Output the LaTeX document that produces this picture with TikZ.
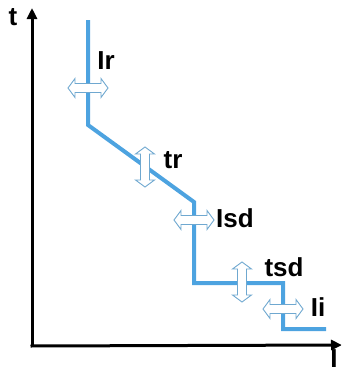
\documentclass[tikz,border=0pt]{standalone}
\usepackage{fontspec}
\setmainfont{Liberation Sans}
\usetikzlibrary{arrows.meta}
\definecolor{curveblue}{HTML}{4DA3E0}
\definecolor{arrowblue}{HTML}{6FA8D0}
\tikzset{
  axis/.style={line width=3pt,-{Triangle[length=11pt,width=10pt]}},
  curve/.style={line width=4pt,curveblue,line join=miter},
  darrline/.style={draw=arrowblue,fill=white,line width=0.9pt,line join=miter},
  darr/.pic={\draw[darrline] (-20,0) -- (-13,-9.5) -- (-13,-4.5) -- (13,-4.5) -- (13,-9.5)
     -- (20,0) -- (13,9.5) -- (13,4.5) -- (-13,4.5) -- (-13,9.5) -- cycle;},
  lbl/.style={font=\fontsize{26}{28}\selectfont\bfseries,inner sep=0pt}
}
\begin{document}
\begin{tikzpicture}[x=1pt,y=-1pt]
\clip (0,0) rectangle (341,372);
\useasboundingbox (0,0) rectangle (341,372);
\coordinate (O) at (32,346);
\coordinate (Ytop) at (32,8);
\coordinate (Xend) at (342,345);
\draw[axis] (O) -- (Ytop);
\draw[axis] ([xshift=-1.5pt]O) -- (Xend);
\node[lbl] (t) at (13,17) {t};
\node[lbl] (I) at (334,359) {I};
\coordinate (c0) at (88,20);
\coordinate (c1) at (88,125);
\coordinate (c2) at (194,202);
\coordinate (c3) at (194,283);
\coordinate (c4) at (283,283);
\coordinate (c5) at (283,329);
\coordinate (c6) at (326,329);
\draw[curve] (c0) -- (c1) -- (c2) -- (c3) -- (c4) -- (c5) -- (c6);
\pic (a1) at (88,88) {darr};
\pic[rotate=90] (a2) at (145,167) {darr};
\pic (a3) at (194,220) {darr};
\pic[rotate=90] (a4) at (242,282) {darr};
\pic (a5) at (283,309) {darr};
\node[lbl] (Ir) at (106,60.5) {Ir};
\node[lbl] (tr) at (173,160) {tr};
\node[lbl] (Isd) at (235,218) {Isd};
\node[lbl] (tsd) at (284,267.5) {tsd};
\node[lbl] (Ii) at (318,307) {Ii};
\end{tikzpicture}
\end{document}
